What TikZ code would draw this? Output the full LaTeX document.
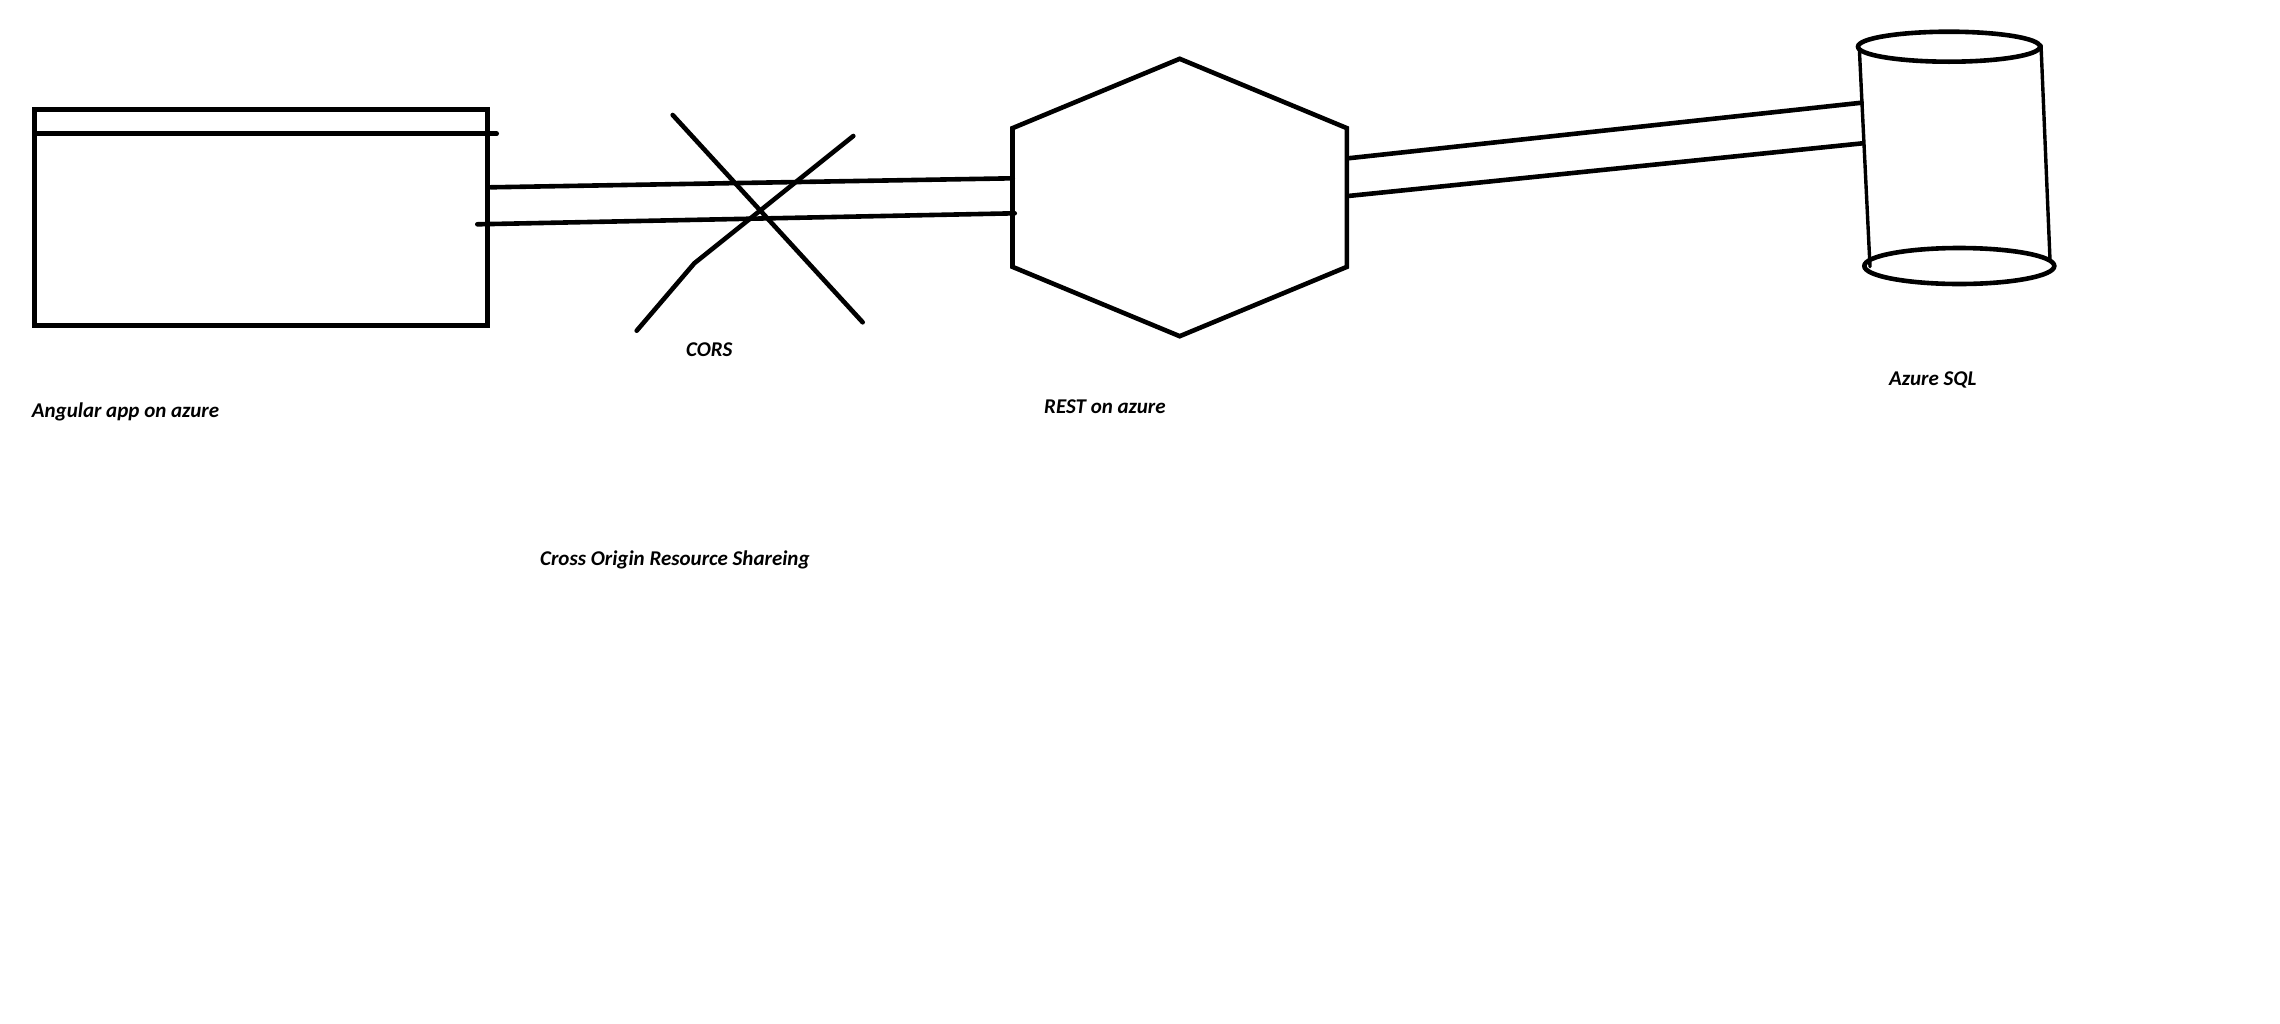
\documentclass[tikz,border=0pt]{standalone}
\usepackage{fontspec}
\setmainfont{Carlito}
\usetikzlibrary{positioning, calc}
\tikzset{
    Line/.style = {line width=4.6pt, line cap=round, line join=miter},
    Thin/.style = {line width=3.4pt, line cap=round},
    Label/.style = {
        inner sep=0pt,
        anchor=base west,
        font=\fontsize{21}{25}\selectfont\bfseries\itshape
    }
}

\begin{document}
\begin{tikzpicture}[x=1pt, y=-1pt]
    \useasboundingbox (0,0) rectangle (2280,1023);

    % Angular app
    \node[draw, Line, line cap=butt, inner sep=0pt, minimum width=452.8pt,
          minimum height=215.5pt] (app) at (261.1,217.45) {};
    \coordinate (barL) at (34.7,133.7);
    \coordinate (barR) at (496.7,133.7);
    \draw[Line] (barL) -- (barR);

    % REST service
    \node[inner sep=0pt, minimum width=334pt, minimum height=277pt] (rest) at (1179.7,197.5) {};
    \draw[Line] (rest.north)
        -- ($(rest.north east)!0.25!(rest.south east)$)
        -- ($(rest.north east)!0.75!(rest.south east)$)
        -- (rest.south)
        -- ($(rest.north west)!0.75!(rest.south west)$)
        -- ($(rest.north west)!0.25!(rest.south west)$)
        -- cycle;

    % Azure SQL
    \coordinate (dbTop) at (1949,46.7);
    \coordinate (dbBot) at (1959.3,266);
    \draw[Line] (dbTop) ellipse [x radius=91, y radius=15];
    \draw[Line] (dbBot) ellipse [x radius=95, y radius=18];
    \draw[Thin] (1859.3,48.3) -- (1870,266.7);
    \draw[Thin] (2041,45) -- (2050,260);

    % app -- REST
    \coordinate (appU) at (490.7,187.3);
    \coordinate (appD) at (477.3,224.3);
    \coordinate (restUL) at (1012.7,178.3);
    \coordinate (restDL) at (1014.7,213.3);
    \draw[Line] (appU) -- (restUL);
    \draw[Line] (appD) -- (restDL);

    % REST -- SQL
    \coordinate (restUR) at (1348,158.3);
    \coordinate (restDR) at (1348,196);
    \coordinate (dbU) at (1861.7,102.7);
    \coordinate (dbD) at (1862.7,143.3);
    \draw[Line] (restUR) -- (dbU);
    \draw[Line] (restDR) -- (dbD);

    % CORS cross
    \coordinate (xA) at (672.7,115);
    \coordinate (xB) at (862.7,322.3);
    \coordinate (xC) at (853.3,136);
    \coordinate (xK) at (694.3,263.3);
    \coordinate (xD) at (636.7,330.7);
    \draw[Line] (xA) -- (xB);
    \draw[Line] (xC) -- (xK) -- (xD);

    % labels
    \node[Label] (appText) at (31.7,417) {Angular app on azure};
    \node[Label] (corsText) at (686,356.5) {CORS};
    \node[Label] (restText) at (1044,413) {REST on azure};
    \node[Label] (sqlText) at (1889,385) {Azure SQL};
    \node[Label] (corsLong) at (540,565) {Cross Origin Resource Shareing};
\end{tikzpicture}
\end{document}
